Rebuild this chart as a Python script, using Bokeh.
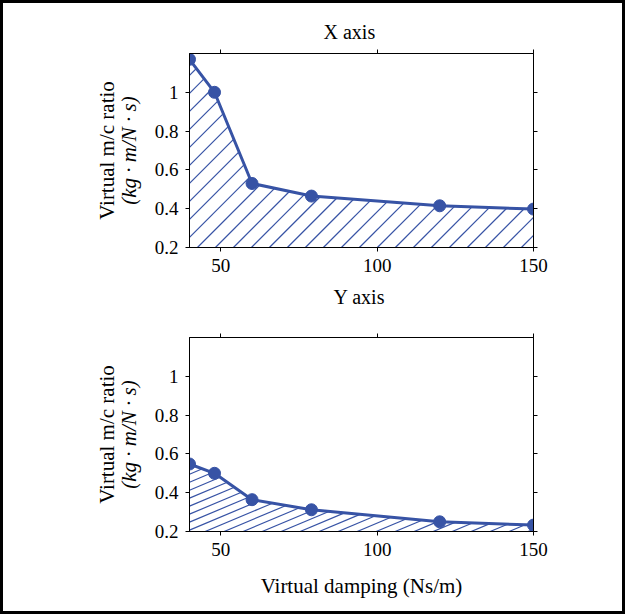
import numpy as np
from bokeh.plotting import figure
from bokeh.layouts import column
from bokeh.models import Range1d, LinearAxis, FixedTicker, CustomJSTickFormatter, Title
from bokeh.embed import file_html
from bokeh.resources import INLINE

# ---- data ----
damping = [40, 48, 60, 79, 120, 150]
ratio_x_axis = [1.17, 1.0, 0.53, 0.465, 0.415, 0.398]
ratio_y_axis = [0.548, 0.5, 0.364, 0.312, 0.25, 0.233]
x_ticks = [50, 100, 150]
y_ticks = [0.2, 0.4, 0.6, 0.8, 1.0]
titles = ["X axis", "Y axis"]
ylabel_1 = "Virtual m/c ratio"
ylabel_2 = "(kg \u00b7 m/N \u00b7 s)"
xlabel = "Virtual damping (Ns/m)"

BLUE = "#3753A5"
FONT = "Liberation Serif"
XMIN, XMAX, YMIN, YMAX = 40, 150, 0.2, 1.2
FW, FH = 344, 194
PX_X = FW / (XMAX - XMIN)
PX_Y = FH / (YMAX - YMIN)
WIDTH = 619
BL = 186


def hatch_segments(xd, yd, slope_px, step_px, phase):
    s = slope_px * PX_X / PX_Y
    step = step_px / PX_X
    xs_dense = np.linspace(XMIN, XMAX, 4401)
    f = np.interp(xs_dense, xd, yd)
    top = max(yd)
    kmin = int(np.floor((XMIN - (top - YMIN) / s - phase) / step)) - 1
    kmax = int(np.ceil((XMAX - phase) / step)) + 1
    xs_out, ys_out = [], []
    for k in range(kmin, kmax + 1):
        xb = phase + k * step
        line = YMIN + s * (xs_dense - xb)
        inside = (line >= YMIN - 1e-9) & (line <= f)
        if not inside.any():
            continue
        idx = np.where(inside)[0]
        i1 = idx[-1]
        xs0 = max(XMIN, xb)
        ys0 = YMIN + s * (xs0 - xb)
        xs_out.append([xs0, xs_dense[i1]])
        ys_out.append([ys0, line[i1]])
    return xs_out, ys_out


def hidden_label_axis(ticks):
    return LinearAxis(ticker=FixedTicker(ticks=ticks), major_tick_in=0, major_tick_out=4,
                      minor_tick_out=0, minor_tick_in=0, major_label_text_font_size="1px",
                      major_label_text_color=None, major_label_standoff=0,
                      axis_line_color="black", major_tick_line_color="black")


def style_title(t, offset, standoff):
    t.align = "left"
    t.offset = offset
    t.text_font = FONT
    t.text_font_size = "20px"
    t.text_font_style = "normal"
    t.text_color = "black"
    t.standoff = standoff


def make_plot(yvals, height, b_top, b_bottom, slope_px, step_px, phase, with_xlabel):
    p = figure(width=WIDTH, height=height, x_range=Range1d(XMIN, XMAX), y_range=Range1d(YMIN, YMAX),
               output_backend="svg", toolbar_location=None,
               min_border_left=BL, min_border_right=WIDTH - BL - FW,
               min_border_top=b_top, min_border_bottom=b_bottom)
    p.background_fill_color = "white"
    p.border_fill_color = "white"
    p.outline_line_color = "black"
    p.outline_line_width = 1
    p.grid.visible = False

    p.xaxis.ticker = FixedTicker(ticks=x_ticks)
    p.yaxis.ticker = FixedTicker(ticks=y_ticks)
    p.yaxis.formatter = CustomJSTickFormatter(code="return String(tick)")
    for ax in [p.xaxis[0], p.yaxis[0]]:
        ax.major_tick_in = 0
        ax.major_tick_out = 4
        ax.minor_tick_in = 0
        ax.minor_tick_out = 0
        ax.major_tick_line_color = "black"
        ax.axis_line_color = "black"
        ax.major_label_text_font = FONT
        ax.major_label_text_font_size = "19px"
        ax.major_label_text_color = "black"
        ax.major_label_standoff = 7
        ax.axis_label_text_font = FONT
        ax.axis_label_text_font_size = "21px"
        ax.axis_label_text_color = "black"

    p.yaxis.axis_label = ylabel_2
    p.yaxis.axis_label_text_font_style = "italic"
    p.yaxis.axis_label_standoff = 11

    outer = LinearAxis(ticker=FixedTicker(ticks=[]), major_tick_in=0, major_tick_out=0,
                       minor_tick_out=0, minor_tick_in=0, axis_line_color=None,
                       major_label_text_font_size="1px", major_label_text_color=None,
                       major_label_standoff=0, axis_label=ylabel_1, axis_label_text_font=FONT,
                       axis_label_text_font_size="21px", axis_label_text_font_style="normal",
                       axis_label_text_color="black", axis_label_standoff=-5)
    p.add_layout(outer, "left")

    if with_xlabel:
        p.xaxis.axis_label = xlabel
        p.xaxis.axis_label_text_font_style = "normal"
        p.xaxis.axis_label_standoff = 15

    p.add_layout(hidden_label_axis(x_ticks), "above")
    p.add_layout(hidden_label_axis(y_ticks), "right")

    hx, hy = hatch_segments(damping, yvals, slope_px, step_px, phase)
    p.multi_line(hx, hy, line_color=BLUE, line_width=1.2)
    p.line(damping, yvals, line_color=BLUE, line_width=3)
    p.scatter(damping, yvals, size=12, fill_color=BLUE, line_color=BLUE)
    return p


p1 = make_plot(ratio_x_axis, 319, 50, 75, 1.0, 18.0, 77.06, False)
p1.title.text = titles[0]
style_title(p1.title, 134, 13)
t2 = Title(text=titles[1])
style_title(t2, 144, 19)
p1.add_layout(t2, "below")

p2 = make_plot(ratio_y_axis, 289, 15, 80, 0.42, 19.0, 45.0, True)

layout = column(p1, p2, spacing=0, styles={"border": "3px solid black", "background-color": "white"})
open("out.html", "w").write(file_html(layout, INLINE))
